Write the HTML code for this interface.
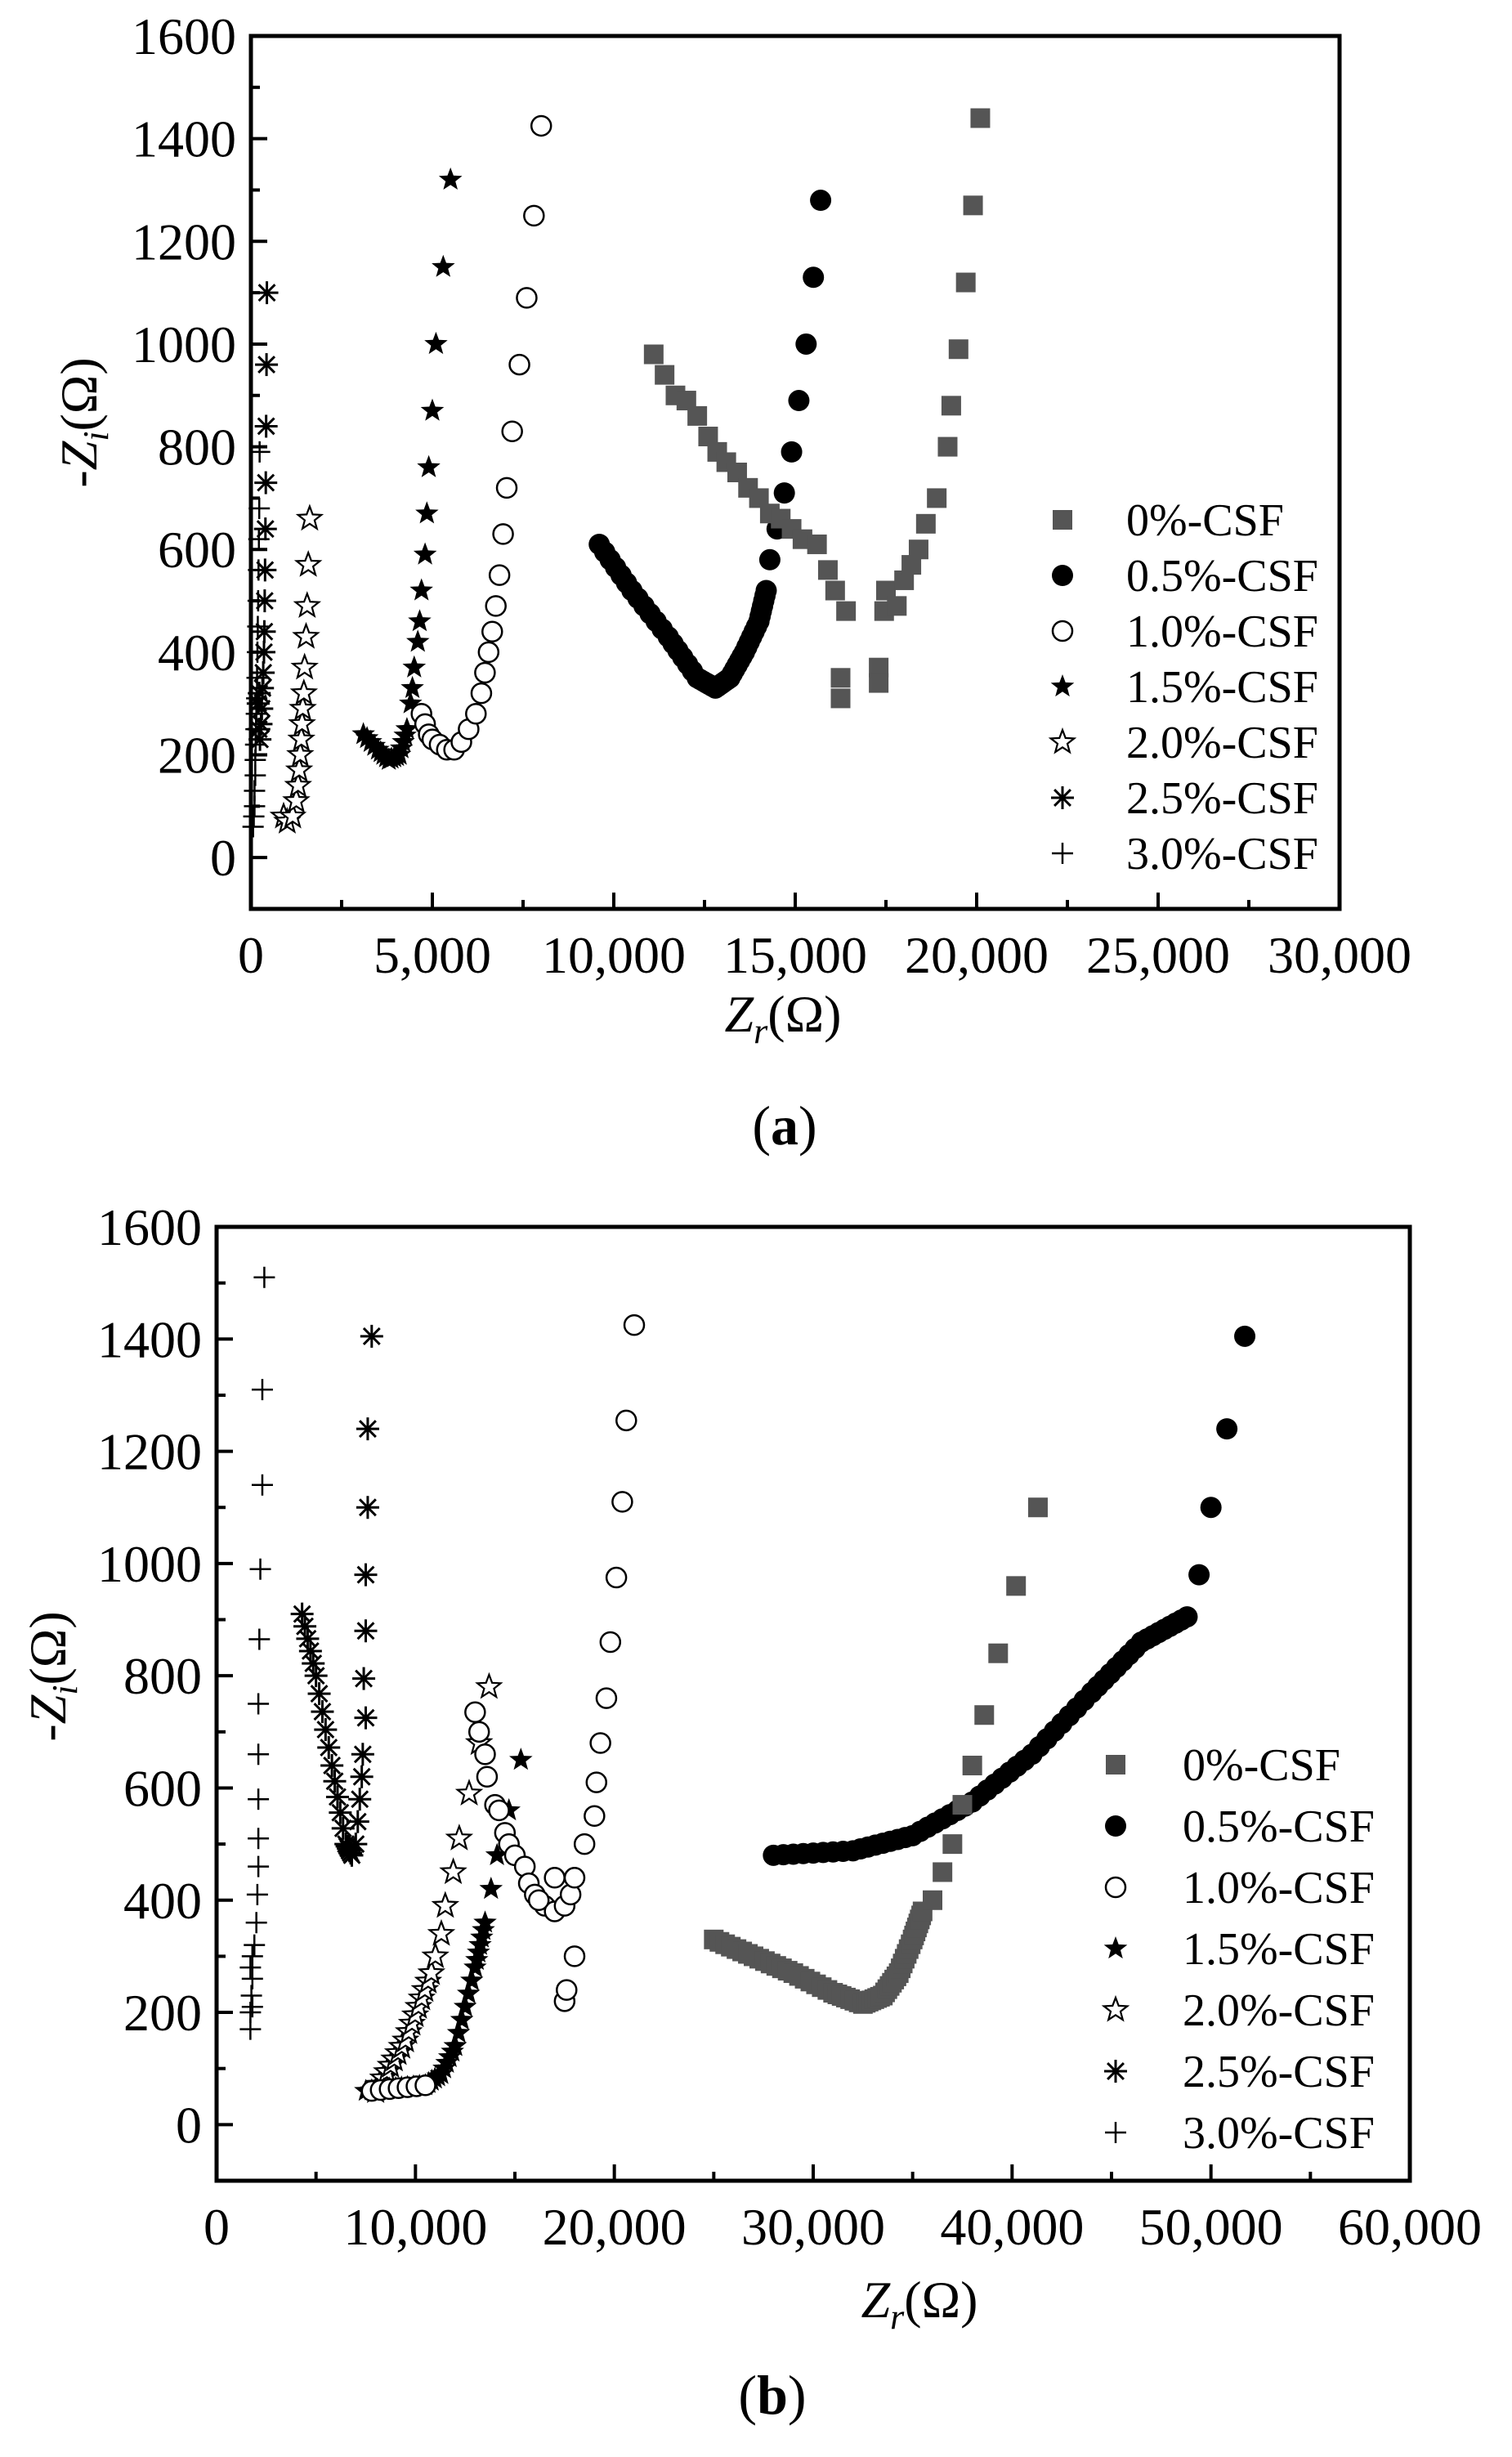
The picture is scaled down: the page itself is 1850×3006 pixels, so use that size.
<!DOCTYPE html>
<html><head><meta charset="utf-8"><style>
html,body{margin:0;padding:0;background:#fff;}
svg{display:block;}
svg text{font-family:"Liberation Serif","Times New Roman",serif;}
</style></head><body>
<svg id="s" width="1850" height="3006" viewBox="0 0 1850 3006" xmlns="http://www.w3.org/2000/svg" font-family="Liberation Serif, serif"></svg>
<script>
const S=document.getElementById('s');let out='';
const G='#555';
const F='font-family="Liberation Serif, Times New Roman, serif"';
function star(cx,cy,R){let p=[];for(let i=0;i<10;i++){let a=-Math.PI/2+i*Math.PI/5,r=i%2?R*0.42:R;p.push((cx+r*Math.cos(a)).toFixed(1)+','+(cy+r*Math.sin(a)).toFixed(1));}return p.join(' ');}
function mk(t,x,y){
 if(t==0)return `<rect x="${x-12}" y="${y-12}" width="24" height="24" fill="${G}"/>`;
 if(t==1)return `<circle cx="${x}" cy="${y}" r="13" fill="#000"/>`;
 if(t==2)return `<circle cx="${x}" cy="${y}" r="12" fill="#fff" stroke="#000" stroke-width="2.5"/>`;
 if(t==3)return `<polygon points="${star(x,y,15)}" fill="#000"/>`;
 if(t==4)return `<polygon points="${star(x,y,15)}" fill="#fff" stroke="#000" stroke-width="2.2"/>`;
 if(t==5){let s='',r=14;for(let a of [0,45,90,135]){let c=Math.cos(a*Math.PI/180)*r,d=Math.sin(a*Math.PI/180)*r;s+=`<line x1="${x-c}" y1="${y-d}" x2="${x+c}" y2="${y+d}" stroke="#000" stroke-width="3"/>`;}return s;}
 if(t==6)return `<line x1="${x-13}" y1="${y}" x2="${x+13}" y2="${y}" stroke="#000" stroke-width="2.5"/><line x1="${x}" y1="${y-13}" x2="${x}" y2="${y+13}" stroke="#000" stroke-width="2.5"/>`;
}
function interp(pts,n){let r=[];for(let i=0;i<pts.length-1;i++){let [a,b]=pts[i],[c,d]=pts[i+1];for(let k=0;k<n;k++){let t=k/n;r.push([a+(c-a)*t,b+(d-b)*t]);}}r.push(pts[pts.length-1]);return r;}
function chart(o){
 const {L,R,T,B,xmax,xstep,xminor,series,leg}=o;
 const X=v=>L+(R-L)*v/xmax, Y=v=>B-(B-T)*(v+100)/1700;
 let s='';
 for(let v=0;v<=1600;v+=100){let y=Y(v),len=v%200==0?20:11;s+=`<line x1="${L}" y1="${y}" x2="${L+len}" y2="${y}" stroke="#000" stroke-width="4"/>`;
  if(v%200==0)s+=`<text ${F} x="${L-18}" y="${y+22}" font-size="64" text-anchor="end">${v}</text>`;}
 for(let v=0;v<=xmax;v+=xminor){let x=X(v),len=v%xstep==0?20:11;s+=`<line x1="${x}" y1="${B}" x2="${x}" y2="${B-len}" stroke="#000" stroke-width="4"/>`;
  if(v%xstep==0)s+=`<text ${F} x="${x}" y="${B+78}" font-size="64" text-anchor="middle">${v.toLocaleString('en-US')}</text>`;}
 series.forEach(([t,pts])=>pts.forEach(([a,b])=>{s+=mk(t,X(a),Y(b));}));
 s+=`<rect x="${L}" y="${T}" width="${R-L}" height="${B-T}" fill="none" stroke="#000" stroke-width="5"/>`;
 const names=['0%-CSF','0.5%-CSF','1.0%-CSF','1.5%-CSF','2.0%-CSF','2.5%-CSF','3.0%-CSF'];
 names.forEach((n,i)=>{let y=leg.y+i*leg.dy;s+=mk(i,leg.mx,y);s+=`<text ${F} x="${leg.tx}" y="${y+19}" font-size="56">${n}</text>`;});
 s+=`<text ${F} x="${o.xt[0]}" y="${o.xt[1]}" font-size="64" text-anchor="middle"><tspan font-style="italic">Z</tspan><tspan font-style="italic" font-size="44" dy="14">r</tspan><tspan dy="-14">(Ω)</tspan></text>`;
 s+=`<text ${F} transform="translate(${o.yt[0]},${o.yt[1]}) rotate(-90)" font-size="64" text-anchor="middle">-<tspan font-style="italic">Z</tspan><tspan font-style="italic" font-size="44" dy="14">i</tspan><tspan dy="-14">(Ω)</tspan></text>`;
 s+=`<text ${F} x="${o.lab[0]}" y="${o.lab[1]}" font-size="68" text-anchor="middle">(<tspan font-weight="bold">${o.lab[2]}</tspan>)</text>`;
 return s;
}
const a0=[[11100,980],[11400,940],[11700,900],[12000,890],[12300,860],[12600,820],[12850,790],[13100,770],[13400,750],[13700,720],[14000,700],[14300,670],[14600,660],[14900,640],[15200,620],[15600,610],[15900,560],[16100,520],[16400,480],[16250,350],[16250,310],[17300,370],[17300,340],[17450,480],[17500,520],[17800,490],[18000,540],[18200,570],[18400,600],[18600,650],[18900,700],[19200,800],[19300,880],[19500,990],[19700,1120],[19900,1270],[20100,1440]];
const a1=interp([[9600,610],[10500,520],[11500,430],[12300,350],[12800,330],[13200,350],[13600,400],[14000,460],[14200,520]],6).concat([[14300,580],[14500,640],[14700,710],[14900,790],[15100,890],[15300,1000],[15500,1130],[15700,1280]]);
const a2=[[4700,280],[4800,260],[4900,240],[5000,230],[5200,220],[5400,210],[5600,210],[5800,225],[6000,250],[6200,280],[6350,320],[6450,360],[6550,400],[6650,440],[6750,490],[6850,550],[6950,630],[7050,720],[7200,830],[7400,960],[7600,1090],[7800,1250],[8000,1425]];
const a3=interp([[3100,240],[3500,210],[3800,190],[4100,200],[4300,250]],4).concat([[4400,300],[4450,330],[4500,370],[4600,420],[4650,460],[4700,520],[4800,590],[4850,670],[4900,760],[5000,870],[5100,1000],[5300,1150],[5500,1320]]);
const a4=[[900,80],[1000,70],[1150,80],[1250,110],[1300,140],[1330,170],[1360,200],[1390,230],[1410,260],[1430,290],[1460,320],[1480,370],[1520,430],[1550,490],[1580,570],[1620,660]];
const a5=[[250,230],[280,260],[300,290],[320,330],[340,360],[360,400],[370,440],[380,500],[390,560],[400,640],[410,730],[420,840],[430,960],[440,1100],[200,300],[230,320],[220,250]];
const a6=[[60,60],[80,80],[100,100],[100,130],[120,160],[120,190],[130,220],[140,250],[150,280],[160,310],[170,350],[180,400],[190,450],[200,500],[210,560],[220,620],[230,680],[240,790]];
const b0=interp([[25000,330],[27000,300],[29000,270],[31000,235],[32500,215],[33500,230],[34300,270],[35000,330],[35500,380]],7).concat([[36000,400],[36500,450],[37000,500],[37500,570],[38000,640],[38600,730],[39300,840],[40200,960],[41300,1100]]);
const b1=interp([[28000,480],[32000,488],[35000,515],[38000,575],[41000,660],[44000,770],[46500,860],[48800,905]],8).concat([[49400,980],[50000,1100],[50800,1240],[51700,1405]]);
const b2=interp([[7800,60],[10500,70]],6).concat([[13000,735],[13200,700],[13500,660],[13600,620],[14000,570],[14200,560],[14500,520],[14700,500],[15000,480],[15500,460],[15700,430],[16000,410],[16500,390],[17000,380],[17000,440],[17500,390],[17800,410],[18000,440],[18500,500],[19000,550],[19100,610],[19300,680],[19600,760],[19800,860],[20100,975],[20400,1110],[20600,1255],[21000,1425],[17500,220],[17600,240],[18000,300],[16200,400]]);
const b3=interp([[7500,60],[9000,65],[10500,70],[11300,90],[12000,140]],5).concat(interp([[12000,140],[13000,280],[13500,360]],6)).concat([[13800,420],[14100,480],[14700,560],[15300,650]]);
const b4=interp([[8000,60],[9500,150],[10800,270]],8).concat([[11000,300],[11300,340],[11500,390],[11900,450],[12200,510],[12700,590],[13200,680],[13700,780]]);
const b5=interp([[4300,910],[5000,800],[5800,640],[6500,500],[6800,480]],5).concat([[7000,500],[7100,540],[7200,580],[7300,620],[7350,660],[7500,725],[7400,795],[7500,880],[7500,980],[7600,1100],[7600,1240],[7800,1405]]);
const b6=[[1700,170],[1700,200],[1800,210],[1750,230],[1800,260],[1700,280],[1800,300],[1900,320],[2000,360],[2050,410],[2100,460],[2100,510],[2100,580],[2100,660],[2100,750],[2150,865],[2200,990],[2300,1140],[2300,1310],[2400,1510]];
out+=chart({L:307,R:1639,T:44,B:1112,xmax:30000,xstep:5000,xminor:2500,
 series:[[6,a6],[5,a5],[4,a4],[3,a3],[2,a2],[1,a1],[0,a0]],
 leg:{mx:1300,tx:1378,y:636,dy:68},xt:[958,1262],yt:[118,517],lab:[960,1400,'a']});
out+=chart({L:265,R:1725,T:1501,B:2668,xmax:60000,xstep:10000,xminor:5000,
 series:[[6,b6],[5,b5],[4,b4],[3,b3],[2,b2],[1,b1],[0,b0]],
 leg:{mx:1365,tx:1447,y:2159,dy:75},xt:[1125,2835],yt:[80,2051],lab:[945,2953,'b']});
S.innerHTML=out;
</script>
</body></html>
